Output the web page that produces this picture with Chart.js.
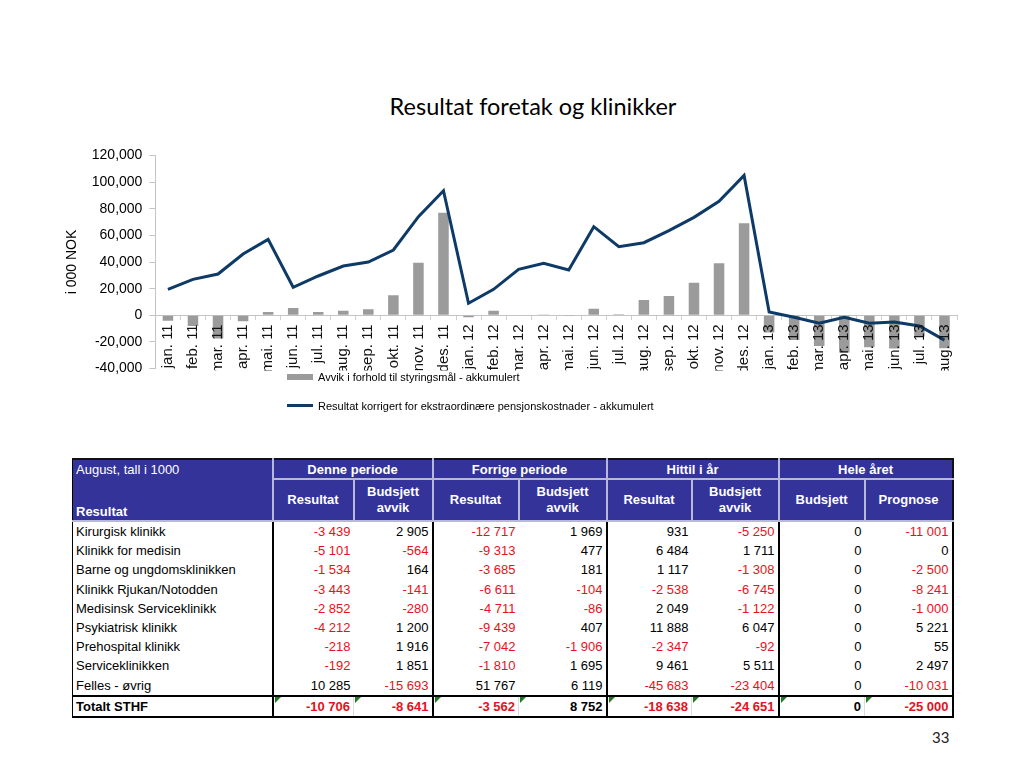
<!DOCTYPE html>
<html>
<head>
<meta charset="utf-8">
<script src="https://cdn.jsdelivr.net/npm/chart.js@4.4.0/dist/chart.umd.min.js"></script>
<style>
  body { margin: 0; width: 1024px; height: 768px; background: #fff; position: relative; overflow: hidden; font-family: "Liberation Sans", Arial, sans-serif; }
  #title { position: absolute; left: 283px; top: 92px; width: 500px; text-align: center; font-family: Lato, sans-serif; font-size: 23.5px; line-height: 28px; color: #000; }
  #wrap { position: absolute; left: 50px; top: 140px; width: 966px; height: 244px; }
  #legend { position: absolute; left: 287px; top: 362px; font-size: 11px; color: #000; }
  #legend div { height: 29px; display: flex; align-items: center; }
  #legend span.sw { display: inline-block; width: 26px; margin-right: 5px; }
  table { position: absolute; left: 72px; top: 458px; border-collapse: collapse; table-layout: fixed; width: 880px; font-size: 13px; }
  th { background: #333399; color: #fff; font-weight: bold; border: 2px solid #b8b8d8; padding: 0; }
  th.g { height: 18px; }
  th.s { height: 40px; line-height: 16px; }
  th.c0a { font-weight: normal; text-align: left; padding-left: 3px; border-bottom: none; border-left: 1px solid #000; border-top: 2px solid #111; }
  th.c0b { text-align: left; padding-left: 3px; vertical-align: bottom; border-top: none; border-left: 1px solid #000; }
  tr.top th { border-top: 2px solid #111; }
  tr.top th:last-child, tr.sub th:last-child { border-right: 2px solid #111; }
  td { height: 19.2px; padding: 0 3px; text-align: right; white-space: nowrap; position: relative; }
  td.n { text-align: left; border-left: 1px solid #000; }
  td.gs { border-left: 2px solid #000; }
  td:last-child { border-right: 2px solid #000; }
  tbody tr:first-child td { border-top: 2px solid #000; }
  tr.tot td { border-top: 2px solid #000; border-bottom: 2px solid #000; font-weight: bold; }
  tr.tot td.in { border-left: 1px solid #ddd; }
  tr.tot td.v::before { content: ""; position: absolute; left: 1px; top: 0; border-top: 6px solid #1f7a1f; border-right: 6px solid transparent; }
  .neg { color: #e8101a; }
  #page { position: absolute; left: 932px; top: 728px; font-family: Lato, sans-serif; font-size: 15px; color: #222; }
</style>
</head>
<body>
<div id="title">Resultat foretak og klinikker</div>
<div id="wrap"><canvas id="myChart"></canvas></div>
<div id="legend"></div>
<table id="tab"></table>
<div id="page">33</div>
<script>
const maaneder = ['jan. 11','feb. 11','mar. 11','apr. 11','mai. 11','jun. 11','jul. 11','aug. 11','sep. 11','okt. 11','nov. 11','des. 11',
  'jan. 12','feb. 12','mar. 12','apr. 12','mai. 12','jun. 12','jul. 12','aug. 12','sep. 12','okt. 12','nov. 12','des. 12',
  'jan. 13','feb. 13','mar. 13','apr. 13','mai. 13','jun. 13','jul. 13','aug. 13'];
const avvik = [-4000, -8000, -17500, -4500, 2500, 5500, 2500, 3500, 4500, 15000, 39500, 77000,
  -1500, 3500, 0, 300, -500, 5000, 700, 11500, 14500, 24500, 39000, 69000,
  -13000, -18500, -23000, -28000, -24000, -25000, -16000, -24651];
const resultat = [19500, 27000, 31000, 46000, 57000, 21000, 29500, 37000, 40000, 49000, 74000, 93500,
  9000, 19500, 34500, 39000, 34000, 66500, 51500, 54500, 63500, 73500, 85500, 105000,
  2500, -1500, -6000, -1500, -6000, -5000, -8000, -18638];
const yTicks = [-40000, -20000, 0, 20000, 40000, 60000, 80000, 100000, 120000];

const klinikker = ['Kirurgisk klinikk','Klinikk for medisin','Barne og ungdomsklinikken','Klinikk Rjukan/Notodden','Medisinsk Serviceklinikk',
  'Psykiatrisk klinikk','Prehospital klinikk','Serviceklinikken','Felles - øvrig','Totalt STHF'];
const denneRes = [-3439, -5101, -1534, -3443, -2852, -4212, -218, -192, 10285, -10706];
const denneAvvik = [2905, -564, 164, -141, -280, 1200, 1916, 1851, -15693, -8641];
const forrigeRes = [-12717, -9313, -3685, -6611, -4711, -9439, -7042, -1810, 51767, -3562];
const forrigeAvvik = [1969, 477, 181, -104, -86, 407, -1906, 1695, 6119, 8752];
const hittilRes = [931, 6484, 1117, -2538, 2049, 11888, -2347, 9461, -45683, -18638];
const hittilAvvik = [-5250, 1711, -1308, -6745, -1122, 6047, -92, 5511, -23404, -24651];
const heleBudsjett = [0, 0, 0, 0, 0, 0, 0, 0, 0, 0];
const helePrognose = [-11001, 0, -2500, -8241, -1000, 5221, 55, 2497, -10031, -25000];

const GRAY = '#9b9b9b';
const NAVY = '#0d3a66';

// x tick labels are drawn over the plot, clip them at the bottom of the plot
const clipLabels = {
  id: 'clipLabels',
  afterDatasetsDraw(chart) {
    const ctx = chart.ctx;
    ctx.save();
    ctx.beginPath();
    ctx.rect(0, 0, chart.width, chart.chartArea.bottom + 2);
    ctx.clip();
  },
  afterDraw(chart) {
    chart.ctx.restore();
  }
};

const datasets = [
  {
    type: 'bar',
    label: 'Avvik i forhold til styringsmål - akkumulert',
    data: avvik,
    backgroundColor: GRAY,
    barPercentage: 0.42,
    categoryPercentage: 1,
    order: 2
  },
  {
    type: 'line',
    label: 'Resultat korrigert for ekstraordinære pensjonskostnader - akkumulert',
    data: resultat,
    borderColor: NAVY,
    backgroundColor: NAVY,
    borderWidth: 3,
    pointRadius: 0,
    tension: 0,
    order: 1
  }
];

const myChart = new Chart(document.getElementById('myChart'), {
  data: { labels: maaneder, datasets: datasets },
  options: {
    responsive: true,
    maintainAspectRatio: false,
    animation: false,
    layout: { padding: { left: 4, right: 59, top: 8, bottom: 0 } },
    plugins: {
      legend: { display: false },
      tooltip: { enabled: false }
    },
    scales: {
      x: {
        position: { y: 0 },
        offset: true,
        grid: { drawOnChartArea: false, tickLength: 4, color: '#cfcfcf', offset: true },
        border: { color: '#c4c4c4' },
        ticks: {
          z: 1,
          autoSkip: false,
          minRotation: 90,
          maxRotation: 90,
          padding: 5,
          color: '#111',
          font: { family: 'Liberation Sans', size: 15 }
        }
      },
      y: {
        min: -40000,
        max: 120000,
        afterBuildTicks(axis) { axis.ticks = yTicks.map(v => ({ value: v })); },
        grid: { drawOnChartArea: false, tickLength: 6, color: '#c4c4c4' },
        border: { color: '#c4c4c4' },
        title: {
          display: true,
          text: 'i 000 NOK',
          color: '#000',
          font: { family: 'Liberation Sans', size: 14 },
          padding: { top: 10, bottom: 4 }
        },
        ticks: {
          color: '#000',
          padding: 7,
          font: { family: 'Liberation Sans', size: 14 },
          callback: v => v.toLocaleString('en-US')
        }
      }
    }
  },
  plugins: [clipLabels]
});

// legend, stacked like the original
const legend = document.getElementById('legend');
myChart.data.datasets.forEach(ds => {
  const row = document.createElement('div');
  const sw = document.createElement('span');
  sw.className = 'sw';
  sw.style.height = ds.type === 'bar' ? '6px' : '3px';
  sw.style.background = ds.type === 'bar' ? ds.backgroundColor : ds.borderColor;
  row.appendChild(sw);
  row.appendChild(document.createTextNode(ds.label));
  legend.appendChild(row);
});

// table
function fmt(v) {
  const s = Math.abs(v).toString().replace(/\B(?=(\d{3})+(?!\d))/g, '\u00a0');
  return (v < 0 ? '-' : '') + s;
}
const cols = [denneRes, denneAvvik, forrigeRes, forrigeAvvik, hittilRes, hittilAvvik, heleBudsjett, helePrognose];
let html = '<colgroup><col style="width:200px"><col style="width:81px"><col style="width:79px"><col style="width:86px"><col style="width:88px">' +
  '<col style="width:85px"><col style="width:87px"><col style="width:86px"><col style="width:88px"></colgroup>';
html += '<thead><tr class="top"><th class="g c0a">August, tall i 1000</th><th colspan="2" class="g">Denne periode</th>' +
  '<th colspan="2" class="g">Forrige periode</th><th colspan="2" class="g">Hittil i år</th><th colspan="2" class="g">Hele året</th></tr>';
html += '<tr class="sub"><th class="s c0b">Resultat</th><th class="s">Resultat</th><th class="s">Budsjett<br>avvik</th>' +
  '<th class="s">Resultat</th><th class="s">Budsjett<br>avvik</th><th class="s">Resultat</th><th class="s">Budsjett<br>avvik</th>' +
  '<th class="s">Budsjett</th><th class="s">Prognose</th></tr></thead><tbody>';
klinikker.forEach((k, i) => {
  const tot = i === klinikker.length - 1;
  html += '<tr' + (tot ? ' class="tot"' : '') + '><td class="n">' + k + '</td>';
  cols.forEach((c, j) => {
    const cls = [];
    if (j % 2 === 0) cls.push('gs'); else cls.push('in');
    if (tot) cls.push('v');
    if (c[i] < 0) cls.push('neg');
    html += '<td class="' + cls.join(' ') + '">' + fmt(c[i]) + '</td>';
  });
  html += '</tr>';
});
html += '</tbody>';
document.getElementById('tab').innerHTML = html;
</script>
</body>
</html>
